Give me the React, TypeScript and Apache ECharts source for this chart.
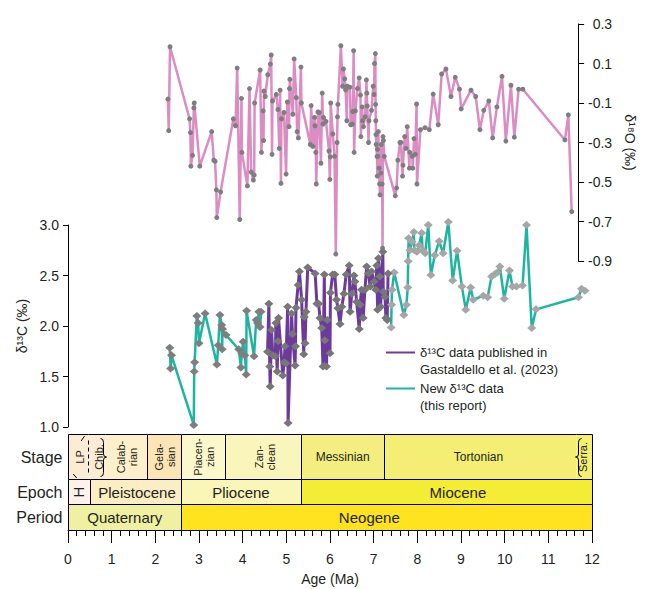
import React, { useEffect, useRef } from 'react';
import * as echarts from 'echarts';

const FONT = '"Liberation Sans", Arial, Helvetica, sans-serif';
const PINK = '#DB8CC2';
const PURPLE = '#6B3A9B';
const TEAL = '#1EB5A0';
const TEXT = '#231F20';

const NAME_PUB = 'δ¹³C data published in\nGastaldello et al. (2023)';
const NAME_NEW = 'New δ¹³C data\n(this report)';

// δ18O (‰) vs age (Ma)
const d18O: [number, number][] = [
  [2.35, -0.08], [2.37, -0.24], [2.40, 0.185], [2.86, -0.18], [2.88, -0.25], [2.89, -0.42], [2.93, -0.365],
  [2.96, -0.125], [2.97, -0.10], [3.10, -0.42], [3.38, -0.245], [3.43, -0.39], [3.46, -0.395], [3.49, -0.54],
  [3.50, -0.68], [3.59, -0.55], [3.89, -0.18], [3.94, -0.215], [3.98, 0.077], [4.04, -0.69], [4.08, -0.077],
  [4.09, -0.35], [4.22, -0.52], [4.27, -0.027], [4.31, -0.45], [4.36, -0.49], [4.38, -0.465], [4.39, -0.10],
  [4.52, 0.067], [4.55, -0.35], [4.59, -0.14], [4.60, -0.29], [4.61, -0.04], [4.64, -0.067], [4.70, 0.043],
  [4.76, 0.097], [4.78, 0.143], [4.80, -0.36], [4.81, -0.09], [4.90, -0.057], [4.94, -0.133], [4.97, -0.33],
  [4.99, -0.035], [5.01, -0.507], [5.02, -0.18], [5.08, -0.148], [5.13, -0.46], [5.16, -0.095], [5.20, -0.22],
  [5.21, -0.027], [5.22, 0.02], [5.29, -0.157], [5.32, 0.123], [5.37, -0.073], [5.39, -0.245], [5.42, -0.277],
  [5.48, 0.082], [5.49, -0.10], [5.70, -0.31], [5.72, -0.113], [5.76, -0.32], [5.80, -0.173], [5.81, -0.215],
  [5.83, -0.35], [5.84, -0.51], [5.88, -0.145], [5.91, -0.148], [5.95, -0.405], [5.98, -0.05], [6.00, -0.207],
  [6.01, -0.173], [6.07, -0.193], [6.14, -0.343], [6.16, -0.487], [6.17, -0.373], [6.18, -0.10], [6.23, -0.257],
  [6.27, -0.37], [6.30, -0.865], [6.33, -0.30], [6.34, -0.17], [6.35, -0.107], [6.42, 0.19], [6.46, -0.015],
  [6.48, 0.072], [6.51, 0.022], [6.53, -0.033], [6.56, -0.19], [6.57, -0.015], [6.63, -0.02], [6.65, -0.21],
  [6.69, -0.207], [6.70, -0.143], [6.72, 0.165], [6.73, -0.35], [6.76, -0.14], [6.81, -0.027], [6.85, 0.027],
  [6.88, -0.06], [6.89, -0.27], [6.92, -0.12], [6.93, -0.19], [6.95, -0.22], [6.99, -0.17], [7.02, 0.017],
  [7.03, -0.05], [7.04, -0.115], [7.07, -0.30], [7.08, -0.19], [7.14, -0.137], [7.18, -0.015], [7.20, -0.057],
  [7.21, 0.10], [7.23, 0.15], [7.235, -0.107], [7.24, -0.19], [7.245, -0.26], [7.25, -0.31], [7.27, -0.37],
  [7.275, -0.47], [7.28, -0.335], [7.29, -0.37], [7.30, -0.245], [7.32, -0.43], [7.33, -0.51], [7.34, -0.565],
  [7.36, -0.455], [7.37, -0.31], [7.39, -0.51], [7.40, -0.835], [7.41, -0.27], [7.42, -0.29], [7.44, -0.37],
  [7.70, -0.57], [7.73, -0.53], [7.76, -0.39], [7.81, -0.30], [7.83, -0.30], [7.87, -0.47], [7.88, -0.415],
  [7.92, -0.27], [7.95, -0.33], [7.98, -0.22], [8.03, -0.43], [8.04, -0.35], [8.10, -0.37], [8.11, -0.43],
  [8.14, -0.28], [8.17, -0.36], [8.20, -0.105], [8.21, -0.51], [8.29, -0.235], [8.40, -0.225], [8.50, -0.235],
  [8.59, -0.055], [8.71, -0.21], [8.79, 0.047], [8.89, 0.072], [9.01, -0.067], [9.11, 0.03], [9.21, -0.03],
  [9.25, -0.13], [9.48, -0.035], [9.59, -0.067], [9.69, -0.235], [9.78, -0.137], [9.90, -0.09], [9.99, -0.277],
  [10.09, -0.12], [10.21, 0.035], [10.30, -0.293], [10.42, -0.01], [10.50, -0.273], [10.60, -0.03],
  [10.70, -0.03], [11.69, -0.287], [11.77, -0.16], [11.85, -0.65],
];

// δ13C (‰), published (Gastaldello et al. 2023)
const d13CPublished: [number, number][] = [
  [4.57, 1.745], [4.60, 2.22], [4.62, 1.60], [4.63, 1.40], [4.66, 1.96], [4.69, 1.71], [4.75, 1.70],
  [4.76, 2.03], [4.79, 1.55], [4.81, 1.85], [4.82, 2.08], [4.92, 1.51], [4.95, 1.64], [4.97, 1.80],
  [4.99, 1.63], [5.03, 2.19], [5.04, 1.04], [5.12, 2.125], [5.14, 1.92], [5.20, 1.61], [5.21, 1.80],
  [5.22, 2.18], [5.27, 2.405], [5.30, 2.54], [5.35, 2.26], [5.40, 1.72], [5.41, 2.09], [5.43, 1.83],
  [5.45, 2.14], [5.49, 2.58], [5.66, 2.52], [5.70, 2.22], [5.74, 2.22], [5.77, 2.08], [5.81, 1.98],
  [5.84, 1.60], [5.87, 2.51], [5.88, 1.86], [5.92, 1.60], [5.94, 2.06], [6.00, 1.73], [6.01, 2.33],
  [6.06, 2.51], [6.11, 2.51], [6.15, 2.26], [6.18, 2.175], [6.23, 2.02], [6.27, 2.19], [6.32, 2.32],
  [6.37, 2.51], [6.44, 2.60], [6.46, 2.14], [6.50, 2.32], [6.55, 2.50], [6.57, 2.44], [6.61, 2.24],
  [6.67, 1.97], [6.69, 2.21], [6.72, 2.36], [6.76, 2.08], [6.80, 2.36], [6.84, 2.59], [6.88, 2.52],
  [6.92, 2.39], [6.95, 2.54], [7.01, 2.44], [7.05, 2.36], [7.07, 2.60], [7.09, 2.16], [7.11, 2.67],
  [7.14, 2.49], [7.16, 2.19], [7.21, 2.735], [7.22, 2.34], [7.26, 2.29], [7.28, 2.08], [7.31, 2.06],
  [7.33, 2.52],
];

// δ13C (‰), new data (this report): Pliocene–Pleistocene part
const d13CNewPliocene: [number, number][] = [
  [2.33, 1.785], [2.35, 1.58], [2.37, 1.71], [2.88, 1.02], [2.89, 1.55], [2.90, 1.64], [2.95, 2.10],
  [2.98, 2.03], [3.00, 1.83], [3.14, 2.125], [3.41, 1.62], [3.44, 1.81], [3.48, 2.11], [3.52, 2.01],
  [3.53, 1.77], [3.54, 1.97], [3.62, 1.91], [3.91, 1.77], [3.96, 1.59], [3.98, 1.73], [4.01, 1.845],
  [4.05, 1.71], [4.08, 1.52], [4.09, 2.15], [4.26, 1.70], [4.31, 2.06], [4.34, 2.03], [4.37, 2.14],
  [4.40, 1.99], [4.42, 2.14],
];

// δ13C (‰), new data (this report): Miocene part
const d13CNewMiocene: [number, number][] = [
  [7.40, 1.985], [7.41, 2.21], [7.42, 2.36], [7.47, 2.53], [7.69, 2.11], [7.75, 2.21], [7.78, 2.38],
  [7.79, 2.64], [7.80, 2.87], [7.83, 2.75], [7.88, 2.835], [7.92, 2.93], [7.93, 2.75], [7.99, 2.735],
  [8.04, 2.80], [8.10, 2.92], [8.12, 2.75], [8.18, 2.72], [8.25, 3.00], [8.31, 2.505], [8.40, 2.70],
  [8.50, 2.84], [8.59, 2.72], [8.71, 3.03], [8.81, 2.45], [8.91, 2.745], [9.02, 2.39], [9.11, 2.16],
  [9.22, 2.38], [9.28, 2.26], [9.51, 2.30], [9.61, 2.285], [9.70, 2.49], [9.78, 2.515], [9.83, 2.53],
  [9.89, 2.59], [9.99, 2.27], [10.11, 2.55], [10.18, 2.39], [10.27, 2.39], [10.41, 2.40], [10.50, 3.00],
  [10.62, 1.98], [10.72, 2.165], [11.69, 2.285], [11.76, 2.37], [11.84, 2.35],
];

// Geological time scale (Ma)
const stageNames = ['LP', 'Chib.', 'Calab-\nrian', 'Gela-\nsian', 'Piacen-\nzian', 'Zan-\nclean', 'Messinian', 'Tortonian', 'Serra.'];
const stageStart = [0, 0.45, 0.85, 1.8, 2.58, 3.6, 5.333, 7.246, 11.63];
const stageEnd = [0.45, 0.85, 1.8, 2.58, 3.6, 5.333, 7.246, 11.63, 12];
const stageLabelAt = [0.27, 0.72, 1.36, 2.21, 3.11, 4.5, 6.29, 9.4, 11.8];

const epochNames = ['H', 'Pleistocene', 'Pliocene', 'Miocene'];
const epochStart = [0, 0.5, 2.58, 5.333];
const epochEnd = [0.5, 2.58, 5.333, 12];
const epochLabelAt = [0.25, 1.58, 3.96, 8.93];

const periodNames = ['Quaternary', 'Neogene'];
const periodStart = [0, 2.58];
const periodEnd = [2.58, 12];
const periodLabelAt = [1.3, 6.9];

const rowTitles = ['Period', 'Epoch', 'Stage'];

// styles
const CELL_STYLE: Record<string, { fill: string; rotate: boolean; size: number }> = {
  'LP': { fill: '#FDECD4', rotate: true, size: 11 },
  'Chib.': { fill: '#FDECD4', rotate: true, size: 11 },
  'Calab-\nrian': { fill: '#FDF0CA', rotate: true, size: 11 },
  'Gela-\nsian': { fill: '#FCE4B4', rotate: true, size: 11 },
  'Piacen-\nzian': { fill: '#FBF8CB', rotate: true, size: 11 },
  'Zan-\nclean': { fill: '#FAF6BB', rotate: true, size: 11 },
  'Messinian': { fill: '#F4EE80', rotate: false, size: 12 },
  'Tortonian': { fill: '#F4EF74', rotate: false, size: 12 },
  'Serra.': { fill: '#F4EF6C', rotate: true, size: 11 },
  'H': { fill: '#FDF1EA', rotate: true, size: 15 },
  'Pleistocene': { fill: '#FCEEC4', rotate: false, size: 15 },
  'Pliocene': { fill: '#FAF6B7', rotate: false, size: 15 },
  'Miocene': { fill: '#F5EC36', rotate: false, size: 15 },
  'Quaternary': { fill: '#F0F0A2', rotate: false, size: 15 },
  'Neogene': { fill: '#FFE31E', rotate: false, size: 15 },
};
// kind of the boundary drawn at the right end of each stage
const STAGE_BOUNDARY = ['dashed', 'braceR', 'solid', 'solid', 'solid', 'solid', 'solid', 'braceL', 'none'];
const ROW_RANGE: [number, number][] = [[0, 26], [26, 51], [51, 96]];

const rowNames = [periodNames, epochNames, stageNames];
const rowLabelAt = [periodLabelAt, epochLabelAt, stageLabelAt];

const timescaleData: number[][] = [
  ...stageNames.map((_, i) => [stageStart[i], stageEnd[i], 2, i]),
  ...epochNames.map((_, i) => [epochStart[i], epochEnd[i], 1, i]),
  ...periodNames.map((_, i) => [periodStart[i], periodEnd[i], 0, i]),
];

function renderTimescale(_params: any, api: any) {
  const s = api.value(0) as number;
  const e = api.value(1) as number;
  const row = api.value(2) as number;
  const i = api.value(3) as number;
  const [vb, vt] = ROW_RANGE[row];
  const tl = api.coord([s, vt]);
  const br = api.coord([e, vb]);
  const x0 = Math.round(tl[0]) + 0.5;
  const x1 = Math.round(br[0]) + 0.5;
  const y0 = Math.round(tl[1]) + 0.5;
  const y1 = Math.round(br[1]) + 0.5;
  const name = rowNames[row][i];
  const st = CELL_STYLE[name];
  const children: any[] = [];
  const line = (ax: number, ay: number, bx: number, by: number, dash?: number[]) => ({
    type: 'line', z2: 10,
    shape: { x1: ax, y1: ay, x2: bx, y2: by },
    style: { stroke: '#000', lineWidth: 1, lineDash: dash },
  });
  children.push({
    type: 'rect', z2: row === 2 ? 0 : 5,
    shape: { x: x0, y: y0, width: x1 - x0, height: y1 - y0 },
    style: { fill: st.fill, stroke: row === 2 ? null : '#000', lineWidth: 1 },
  });
  if (row === 2) {
    children.push(line(x0, y0, x1, y0));
    if (i === 0) {
      children.push(line(x0, y0, x0, y1));
      // small slanted marks of the exaggerated youngest interval
      const a = api.coord([0.3, vt - 2]);
      const b = api.coord([0.38, vt - 7]);
      children.push(line(a[0], b[1], b[0], a[1]));
      const c = api.coord([0.12, vb + 1]);
      const d = api.coord([0.2, vb + 5]);
      children.push(line(c[0], d[1], d[0], c[1]));
    }
    const kind = STAGE_BOUNDARY[i];
    const ym = (y0 + y1) / 2;
    if (kind === 'solid') children.push(line(x1, y0, x1, y1));
    if (kind === 'none') children.push(line(x1, y0, x1, y1));
    if (kind === 'dashed') children.push(line(x1, y0 + 6, x1, y1 - 4, [4, 3]));
    if (kind === 'braceR' || kind === 'braceL') {
      const dir = kind === 'braceR' ? 1 : -1;
      const bx = kind === 'braceR' ? x1 - 2 : x1 + 2;
      const t = y0 + 4;
      const b = y1 - 3;
      const w = 3 * dir;
      const pathData =
        `M${bx - w} ${t} Q${bx} ${t} ${bx} ${t + 4} L${bx} ${ym - 3} Q${bx} ${ym} ${bx + w} ${ym} ` +
        `Q${bx} ${ym} ${bx} ${ym + 3} L${bx} ${b - 4} Q${bx} ${b} ${bx - w} ${b}`;
      children.push({
        type: 'path', z2: 10,
        shape: { pathData },
        style: { stroke: '#000', lineWidth: 1, fill: 'none' },
      });
    }
  }
  const lx = api.coord([rowLabelAt[row][i], vb])[0];
  const ly = (y0 + y1) / 2;
  children.push({
    type: 'text', z2: 20,
    x: lx, y: ly,
    rotation: st.rotate ? Math.PI / 2 : 0,
    style: {
      text: name, fill: TEXT, fontSize: st.size, fontFamily: FONT,
      align: 'center', verticalAlign: 'middle', lineHeight: st.size + 1,
    },
  });
  if (i === 0) {
    children.push({
      type: 'text', z2: 20,
      x: x0 - 6, y: ly,
      style: {
        text: rowTitles[row], fill: TEXT, fontSize: 16, fontFamily: FONT,
        align: 'right', verticalAlign: 'middle',
      },
    });
  }
  return { type: 'group', children };
}

const axisText = { fontSize: 14, color: TEXT, fontFamily: FONT };

const option: any = {
  animation: false,
  textStyle: { fontFamily: FONT },
  grid: [
    { left: 68, top: 24, width: 524, height: 237 },
    { left: 68, top: 225, width: 524, height: 202 },
    { left: 68, top: 434, width: 524, height: 96 },
  ],
  xAxis: [
    { gridIndex: 0, type: 'value', min: 0, max: 12, show: false },
    { gridIndex: 1, type: 'value', min: 0, max: 12, show: false },
    {
      gridIndex: 2, type: 'value', min: 0, max: 12, interval: 1, position: 'bottom',
      axisLine: { show: true, onZero: false, lineStyle: { color: '#000', width: 1 } },
      axisTick: { show: true, length: 13, lineStyle: { color: '#000', width: 1 } },
      minorTick: { show: true, splitNumber: 5, length: 6, lineStyle: { color: '#000', width: 1 } },
      splitLine: { show: false }, minorSplitLine: { show: false },
      axisLabel: { ...axisText, margin: 22 },
      name: 'Age (Ma)', nameLocation: 'middle', nameGap: 42, nameTextStyle: axisText,
    },
  ],
  yAxis: [
    {
      gridIndex: 0, type: 'value', position: 'right', min: -0.9, max: 0.3, interval: 0.2,
      axisLine: { show: true, onZero: false, lineStyle: { color: '#000', width: 1 } },
      axisTick: { show: true, length: 6, lineStyle: { color: '#000', width: 1 } },
      splitLine: { show: false },
      axisLabel: { ...axisText, align: 'right', margin: 34, formatter: (v: number) => v.toFixed(1) },
      name: 'δ¹⁸O (‰)', nameLocation: 'middle', nameRotate: -90, nameGap: 37, nameTextStyle: axisText,
    },
    {
      gridIndex: 1, type: 'value', position: 'left', min: 1, max: 3, interval: 0.5,
      axisLine: { show: true, onZero: false, lineStyle: { color: '#000', width: 1 } },
      axisTick: { show: true, length: 5, lineStyle: { color: '#000', width: 1 } },
      splitLine: { show: false },
      axisLabel: { ...axisText, margin: 9, formatter: (v: number) => v.toFixed(1) },
      name: 'δ¹³C (‰)', nameLocation: 'middle', nameGap: 35, nameTextStyle: axisText,
    },
    { gridIndex: 2, type: 'value', min: 0, max: 96, show: false },
  ],
  legend: {
    left: 386, top: 327, orient: 'vertical', padding: 0, itemGap: -15,
    itemWidth: 29, itemHeight: 2, icon: 'rect', selectedMode: false,
    data: [
      { name: NAME_PUB, itemStyle: { color: PURPLE, borderWidth: 0 } },
      { name: NAME_NEW, itemStyle: { color: TEAL, borderWidth: 0 } },
    ],
    formatter: (n: string) => '\n' + n,
    textStyle: { fontSize: 13, lineHeight: 17, color: TEXT, fontFamily: FONT },
  },
  series: [
    {
      type: 'line', name: 'δ¹⁸O', xAxisIndex: 0, yAxisIndex: 0, data: d18O,
      symbol: 'circle', symbolSize: 5, clip: false,
      lineStyle: { color: PINK, width: 2.5 }, itemStyle: { color: '#7E7E7E' },
    },
    {
      type: 'line', name: NAME_NEW, xAxisIndex: 1, yAxisIndex: 1, data: d13CNewPliocene,
      symbol: 'diamond', symbolSize: [9, 8], clip: false,
      lineStyle: { color: TEAL, width: 2.5 }, itemStyle: { color: '#7E7E7E' },
    },
    {
      type: 'line', name: NAME_NEW, xAxisIndex: 1, yAxisIndex: 1, data: d13CNewMiocene,
      symbol: 'diamond', symbolSize: [9, 8], clip: false,
      lineStyle: { color: TEAL, width: 2.5 }, itemStyle: { color: '#A6A6A6' },
    },
    {
      type: 'line', name: NAME_PUB, xAxisIndex: 1, yAxisIndex: 1, data: d13CPublished,
      symbol: 'diamond', symbolSize: [9, 8], clip: false,
      lineStyle: { color: PURPLE, width: 3 }, itemStyle: { color: '#777777' },
    },
    {
      type: 'custom', name: 'timescale', xAxisIndex: 2, yAxisIndex: 2, silent: true,
      renderItem: renderTimescale, data: timescaleData,
      encode: { x: [0, 1], y: 2 },
    },
  ],
};

export default function App() {
  const ref = useRef<HTMLDivElement>(null);
  useEffect(() => {
    const chart = echarts.init(ref.current!, null, { renderer: 'svg' });
    chart.setOption(option);
    return () => chart.dispose();
  }, []);
  return <div ref={ref} style={{ position: 'absolute', left: 0, top: 0, width: 645, height: 589 }} />;
}
